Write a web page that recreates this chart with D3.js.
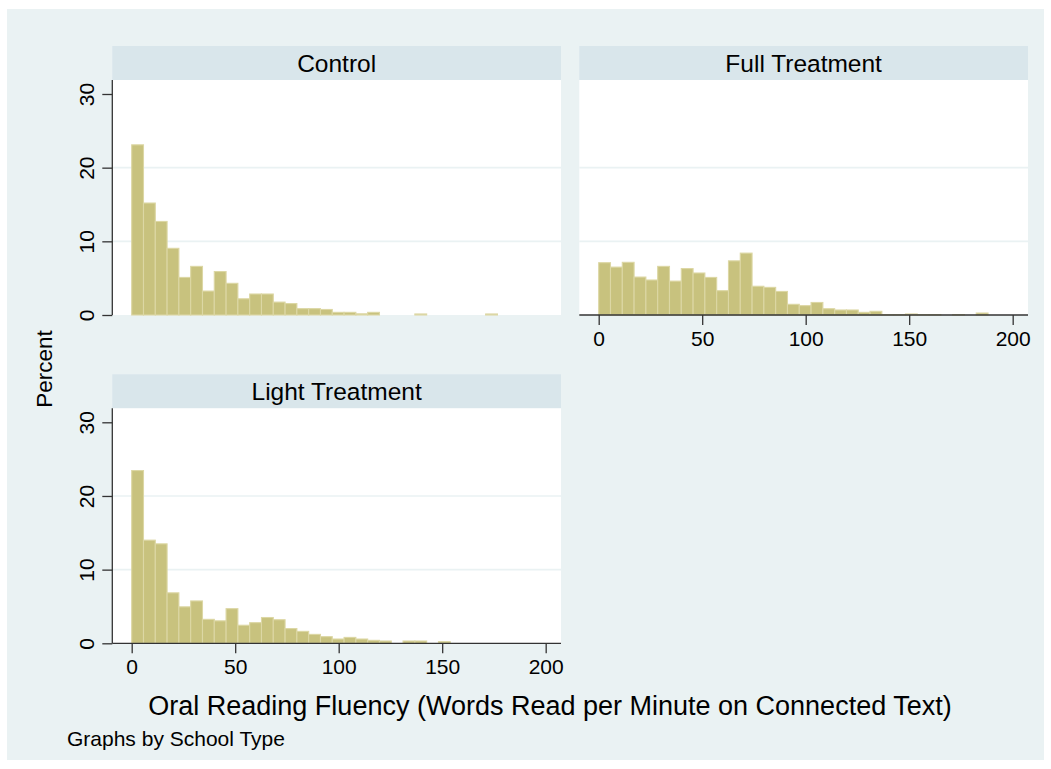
<!DOCTYPE html>
<html>
<head>
<meta charset="utf-8">
<script src="https://cdn.jsdelivr.net/npm/d3@7/dist/d3.min.js"></script>
<style>
  html, body { margin: 0; padding: 0; background: #ffffff; }
  svg { display: block; }
  text { font-family: "Liberation Sans", Arial, sans-serif; fill: #000; }
</style>
</head>
<body>
<svg id="chart" width="1051" height="769"></svg>
<script>
// ---- Data (percent of pupils per bin; bins start at 0, width binWidth) ----
const binStart = 0;
const binWidth = 5.7;
const panelNames = ["Control", "Full Treatment", "Light Treatment"];
const controlPct = [23.1, 15.2, 12.7, 9.05, 5.1, 6.6, 3.25, 5.9, 4.3, 2.2, 2.85, 2.85, 1.75, 1.55, 0.86, 0.86, 0.75, 0.36, 0.36, 0.16, 0.36, 0, 0, 0, 0.14, 0, 0, 0, 0, 0, 0.14];
const fullPct = [7.1, 6.5, 7.15, 5.15, 4.75, 6.6, 4.6, 6.3, 5.7, 5.1, 3.3, 7.35, 8.4, 3.9, 3.75, 3.2, 1.45, 1.27, 1.7, 0.85, 0.68, 0.68, 0.36, 0.5, 0.05, 0.05, 0.14, 0.05, 0.05, 0, 0.05, 0, 0.27];
const lightPct = [23.45, 14.0, 13.5, 6.85, 4.95, 5.75, 3.25, 3.05, 4.7, 2.45, 2.8, 3.5, 3.2, 2.0, 1.62, 1.21, 0.9, 0.58, 0.8, 0.58, 0.4, 0.31, 0, 0.31, 0.31, 0, 0.22];
const xTicks = [0, 50, 100, 150, 200];
const yTicks = [0, 10, 20, 30];
const gridValues = [10, 20];
const xTitle = "Oral Reading Fluency (Words Read per Minute on Connected Text)";
const yTitle = "Percent";
const note = "Graphs by School Type";

// ---- Styles ----
const C = {
  outerBg: "#EAF2F3",
  strip: "#D9E6EB",
  plotBg: "#FFFFFF",
  grid: "#EAF2F3",
  barFill: "#C8C27E",
  barStroke: "#DCD7A4",
  axis: "#333333"
};

const svg = d3.select("#chart");
svg.append("rect").attr("x", 7).attr("y", 9).attr("width", 1037).attr("height", 751).attr("fill", C.outerBg);

const plotW = 448.7, plotH = 235, stripH = 34;
const panels = [
  {name: panelNames[0], data: controlPct, x0: 112.3, y0: 80, yAxis: true, xAxis: false},
  {name: panelNames[1], data: fullPct, x0: 579.3, y0: 80, yAxis: false, xAxis: true},
  {name: panelNames[2], data: lightPct, x0: 112.3, y0: 408.3, yAxis: true, xAxis: true}
];

panels.forEach(p => {
  const x = d3.scaleLinear().domain([-9.37, 207.4]).range([p.x0, p.x0 + plotW]);
  const y = d3.scaleLinear().domain([0, 31.9]).range([p.y0 + plotH, p.y0]);

  // strip
  svg.append("rect").attr("x", p.x0).attr("y", p.y0 - stripH).attr("width", plotW).attr("height", stripH).attr("fill", C.strip);
  svg.append("text").attr("x", p.x0 + plotW / 2).attr("y", p.y0 - stripH / 2).attr("dy", "0.36em")
    .attr("text-anchor", "middle").style("font-size", "24.5px").text(p.name);

  // plot region
  svg.append("rect").attr("x", p.x0).attr("y", p.y0).attr("width", plotW).attr("height", plotH).attr("fill", C.plotBg);

  // grid
  svg.append("g").selectAll("line").data(gridValues).join("line")
    .attr("x1", p.x0).attr("x2", p.x0 + plotW)
    .attr("y1", d => y(d)).attr("y2", d => y(d))
    .attr("stroke", C.grid).attr("stroke-width", 1.6);

  // bars
  svg.append("g").selectAll("rect").data(p.data.map((v, i) => ({i, v})).filter(d => d.v > 0)).join("rect")
    .attr("x", d => x(binStart + d.i * binWidth))
    .attr("width", d => x(binStart + (d.i + 1) * binWidth) - x(binStart + d.i * binWidth))
    .attr("y", d => y(d.v))
    .attr("height", d => y(0) - y(d.v))
    .attr("fill", C.barFill).attr("stroke", C.barStroke).attr("stroke-width", 1.1);

  if (p.yAxis) {
    const g = svg.append("g").attr("transform", `translate(${p.x0},0)`)
      .call(d3.axisLeft(y).tickValues(yTicks).tickSize(10).tickPadding(4).tickFormat(d3.format("d")));
    g.select(".domain").attr("d", `M0,${p.y0}V${p.y0 + plotH}`).attr("stroke", C.axis).attr("stroke-width", 1.3);
    g.selectAll(".tick line").attr("stroke", C.axis).attr("stroke-width", 1.3);
    g.selectAll(".tick text")
      .attr("x", null).attr("dy", null)
      .attr("transform", "translate(-18,0) rotate(-90)")
      .attr("text-anchor", "middle")
      .attr("y", 0)
      .style("font-family", '"Liberation Sans", Arial, sans-serif')
      .style("font-size", "21px").attr("fill", "#000");
  }
  if (p.xAxis) {
    const g = svg.append("g").attr("transform", `translate(0,${p.y0 + plotH})`)
      .call(d3.axisBottom(x).tickValues(xTicks).tickSize(10).tickPadding(6).tickFormat(d3.format("d")));
    g.select(".domain").attr("d", `M${p.x0},0H${p.x0 + plotW}`).attr("stroke", C.axis).attr("stroke-width", 1.3);
    g.selectAll(".tick line").attr("stroke", C.axis).attr("stroke-width", 1.3);
    g.selectAll(".tick text")
      .style("font-family", '"Liberation Sans", Arial, sans-serif')
      .style("font-size", "21px").attr("fill", "#000");
  }
});

// titles
svg.append("text").attr("transform", "translate(52,369) rotate(-90)").attr("text-anchor", "middle")
  .style("font-size", "22.5px").text(yTitle);
svg.append("text").attr("x", 550).attr("y", 715).attr("text-anchor", "middle")
  .style("font-size", "27px").text(xTitle);
svg.append("text").attr("x", 67).attr("y", 746).attr("text-anchor", "start")
  .style("font-size", "21px").text(note);
</script>
</body>
</html>
